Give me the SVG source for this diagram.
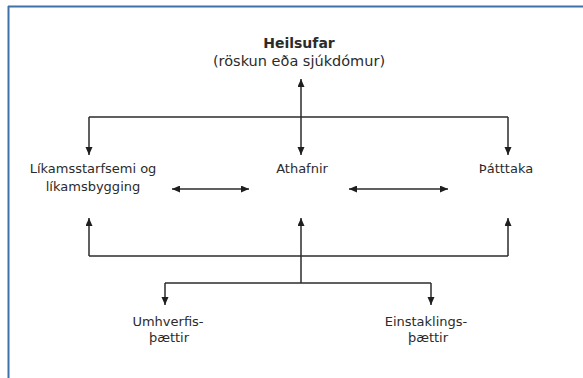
<svg xmlns="http://www.w3.org/2000/svg" width="583" height="378" viewBox="0 0 583 378">
<style>
.t{font-family:"DejaVu Sans",Verdana,sans-serif;font-size:13px;fill:#2b2b2b;text-anchor:middle}
.b{font-weight:bold;font-size:14px}
.s{font-size:14.5px}
.c{fill:none;stroke:#2b2b2b;stroke-width:1.5}
.a{marker-end:url(#ah)}
.d{marker-start:url(#ahs);marker-end:url(#ah)}
</style>
<defs>
<marker id="ah" markerUnits="userSpaceOnUse" markerWidth="9" markerHeight="8" refX="8" refY="3.5" orient="auto">
<path d="M0,0 L8,3.5 L0,7 z" fill="#1e1e1e"/>
</marker>
<marker id="ahs" markerUnits="userSpaceOnUse" markerWidth="9" markerHeight="8" refX="0" refY="3.5" orient="auto">
<path d="M8,0 L0,3.5 L8,7 z" fill="#1e1e1e"/>
</marker>
</defs>
<rect width="583" height="378" fill="#ffffff"/>
<g id="frame">
<line x1="8" y1="6.5" x2="583" y2="6.5" stroke="#3f72aa" stroke-width="2"/>
<line x1="8.5" y1="6" x2="8.5" y2="378" stroke="#3f72aa" stroke-width="2"/>
</g>
<g id="connectors">
<path class="c a" d="M301,117 L301,79"/>
<path class="c" d="M89,117 L508,117"/>
<path class="c a" d="M89,117 L89,155"/>
<path class="c a" d="M301,117 L301,155"/>
<path class="c a" d="M508,117 L508,155"/>
<path class="c d" d="M172,189 L249,189"/>
<path class="c d" d="M349,189 L448,189"/>
<path class="c" d="M89,256 L508,256"/>
<path class="c a" d="M89,256 L89,218"/>
<path class="c a" d="M301,256 L301,218"/>
<path class="c a" d="M508,256 L508,218"/>
<path class="c" d="M301,256 L301,283"/>
<path class="c" d="M165,283 L431,283"/>
<path class="c a" d="M165,283 L165,305"/>
<path class="c a" d="M431,283 L431,305"/>
</g>
<g id="heilsufar">
<text class="t b" x="299" y="48">Heilsufar</text>
<text class="t s" x="299" y="66">(röskun eða sjúkdómur)</text>
</g>
<g id="likamsstarfsemi">
<text class="t" x="93" y="173">Líkamsstarfsemi og</text>
<text class="t" x="93" y="191">líkamsbygging</text>
</g>
<g id="athafnir">
<text class="t" x="302" y="173">Athafnir</text>
</g>
<g id="thatttaka">
<text class="t" x="506" y="173">Þátttaka</text>
</g>
<g id="umhverfis">
<text class="t" x="168" y="326">Umhverfis-</text>
<text class="t" x="169" y="342">þættir</text>
</g>
<g id="einstaklings">
<text class="t" x="426" y="326">Einstaklings-</text>
<text class="t" x="428" y="342">þættir</text>
</g>
</svg>
